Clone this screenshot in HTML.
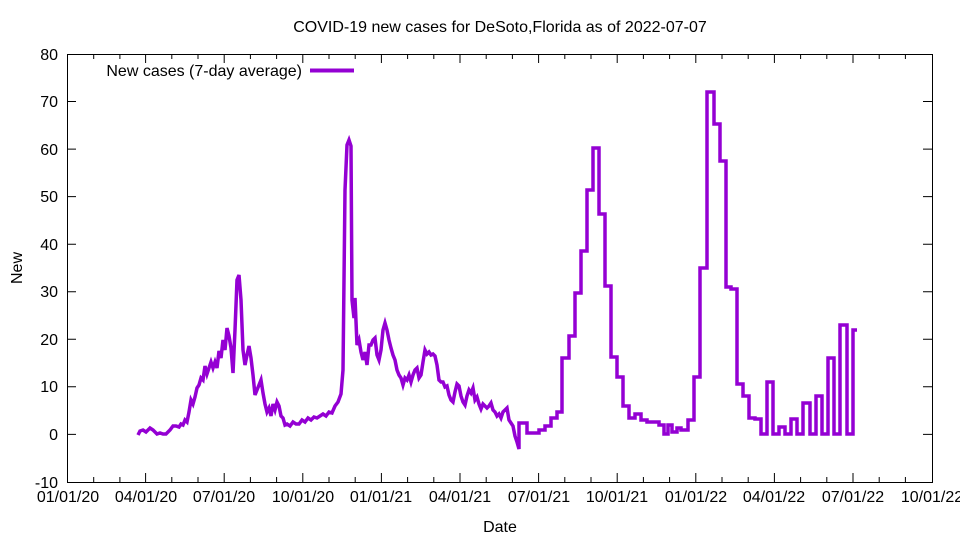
<!DOCTYPE html>
<html><head><style>
body{margin:0;background:#fff;}
svg{display:block;font-family:"Liberation Sans",sans-serif;font-size:16px;}
</style></head><body>
<svg width="960" height="540" viewBox="0 0 960 540">
<rect width="960" height="540" fill="#fff"/>
<g stroke="#000" stroke-width="1" fill="none">
<rect x="67.5" y="54.5" width="865" height="428"/>
<path d="M67,434.4h9M932,434.4h-9M67,386.8h9M932,386.8h-9M67,339.3h9M932,339.3h-9M67,291.7h9M932,291.7h-9M67,244.2h9M932,244.2h-9M67,196.6h9M932,196.6h-9M67,149.1h9M932,149.1h-9M67,101.5h9M932,101.5h-9"/>
<path d="M145.6,482v-9M145.6,54v9M224.2,482v-9M224.2,54v9M302.8,482v-9M302.8,54v9M381.4,482v-9M381.4,54v9M460,482v-9M460,54v9M538.6,482v-9M538.6,54v9M617.2,482v-9M617.2,54v9M695.8,482v-9M695.8,54v9M774.4,482v-9M774.4,54v9M853,482v-9M853,54v9"/>
<path d="M93.7,482v-5M119.9,482v-5M171.8,482v-5M198,482v-5M250.4,482v-5M276.6,482v-5M329,482v-5M355.2,482v-5M407.6,482v-5M433.8,482v-5M486.2,482v-5M512.4,482v-5M564.8,482v-5M591,482v-5M643.4,482v-5M669.6,482v-5M722,482v-5M748.2,482v-5M800.6,482v-5M826.8,482v-5M879.2,482v-5M905.4,482v-5M93.7,54v5M119.9,54v5M171.8,54v5M198,54v5M250.4,54v5M276.6,54v5M329,54v5M355.2,54v5M407.6,54v5M433.8,54v5M486.2,54v5M512.4,54v5M564.8,54v5M591,54v5M643.4,54v5M669.6,54v5M722,54v5M748.2,54v5M800.6,54v5M826.8,54v5M879.2,54v5M905.4,54v5"/>
</g>
<g text-anchor="end" font-size="16">
<text x="58" y="60">80</text><text x="58" y="107">70</text><text x="58" y="155">60</text><text x="58" y="202">50</text><text x="58" y="250">40</text><text x="58" y="297">30</text><text x="58" y="345">20</text><text x="58" y="392">10</text><text x="58" y="440">0</text><text x="58" y="488">-10</text>
</g>
<g text-anchor="middle" font-size="16">
<text x="68" y="502">01/01/20</text><text x="146" y="502">04/01/20</text><text x="224" y="502">07/01/20</text><text x="303" y="502">10/01/20</text><text x="381" y="502">01/01/21</text><text x="460" y="502">04/01/21</text><text x="539" y="502">07/01/21</text><text x="617" y="502">10/01/21</text><text x="696" y="502">01/01/22</text><text x="774" y="502">04/01/22</text><text x="853" y="502">07/01/22</text><text x="932" y="502">10/01/22</text>
<text x="500" y="532">Date</text>
<text x="500" y="32">COVID-19 new cases for DeSoto,Florida as of 2022-07-07</text>
<text transform="translate(22,268) rotate(-90)">New</text>
</g>
<text x="302" y="76" text-anchor="end" font-size="16">New cases (7-day average)</text>
<path d="M310,70.5h44" stroke="#9400d3" stroke-width="4"/>
<polyline fill="none" stroke="#9400d3" stroke-width="3.5" stroke-linejoin="miter" points="138,435 140,431 143,430 146,432 150,428 153,430 157,434 160,433 163,434 166,434 170,430 173,426 176,426 179,427 181,424 183,425 185,420 187,422 189,412 191,400 193,404 195,397 197,388 199,385 201,378 203,380 205,366 207,374 209,368 211,362 213,368 215,362 217,368 219,351 221,358 223,340 225,350 227,328 229,336 231,348 233,373 235,330 237,280 239,275 241,300 243,350 245,365 247,355 249,346 251,358 253,375 255,395 257,390 259,385 261,380 263,393 265,404 267,412 269,408 271,416 273,404 275,410 277,402 279,406 281,416 283,418 285,425 287,424 290,426 293,422 296,424 299,424 302,420 305,422 308,418 311,420 314,417 317,418 320,416 323,414 326,416 329,412 332,413 335,406 338,402 341,394 343,370 345,190 347,145 349,140 351,146 352,300 354,318 355,298 357,345 359,340 361,352 363,360 365,352 367,365 369,345 371,345 373,340 375,338 377,355 379,360 381,350 383,330 385,323 387,330 389,340 391,348 393,355 395,360 397,370 399,375 401,378 403,385 405,378 407,380 409,375 411,382 413,375 415,370 417,368 419,378 421,375 423,362 425,350 427,354 429,352 431,355 433,354 435,356 437,365 439,380 441,382 443,382 445,387 447,386 449,395 451,400 453,402 455,392 457,384 459,386 461,396 463,402 465,405 467,396 469,390 471,393 473,388 475,400 477,397 479,404 481,409 483,404 485,406 487,408 489,406 491,403 493,410 495,412 497,416 499,414 501,418 503,412 505,410 507,408 509,420 511,423 513,426 515,436 517,442 519,449 519,423 527,423 527,433 539,433 539,430 545,430 545,426 551,426 551,418 557,418 557,412 562,412 562,358 569,358 569,336 575,336 575,293 581,293 581,251 587,251 587,190 593,190 593,148 599,148 599,214 605,214 605,286 611,286 611,357 617,357 617,377 623,377 623,406 629,406 629,418 635,418 635,414 641,414 641,420 647,420 647,422 653,422 653,422 659,422 659,425 664,425 664,434 668,434 668,425 672,425 672,432 677,432 677,428 681,428 681,430 688,430 688,420 694,420 694,377 700,377 700,268 707,268 707,92 714,92 714,124 720,124 720,161 726,161 726,287 731,287 731,289 737,289 737,384 743,384 743,396 749,396 749,418 755,418 755,419 761,419 761,434 767,434 767,382 773,382 773,434 779,434 779,427 785,427 785,434 791,434 791,419 797,419 797,434 803,434 803,403 810,403 810,434 816,434 816,396 822,396 822,434 828,434 828,358 834,358 834,434 840,434 840,325 847,325 847,434 853,434 853,330 857,330"/>
</svg>
</body></html>
